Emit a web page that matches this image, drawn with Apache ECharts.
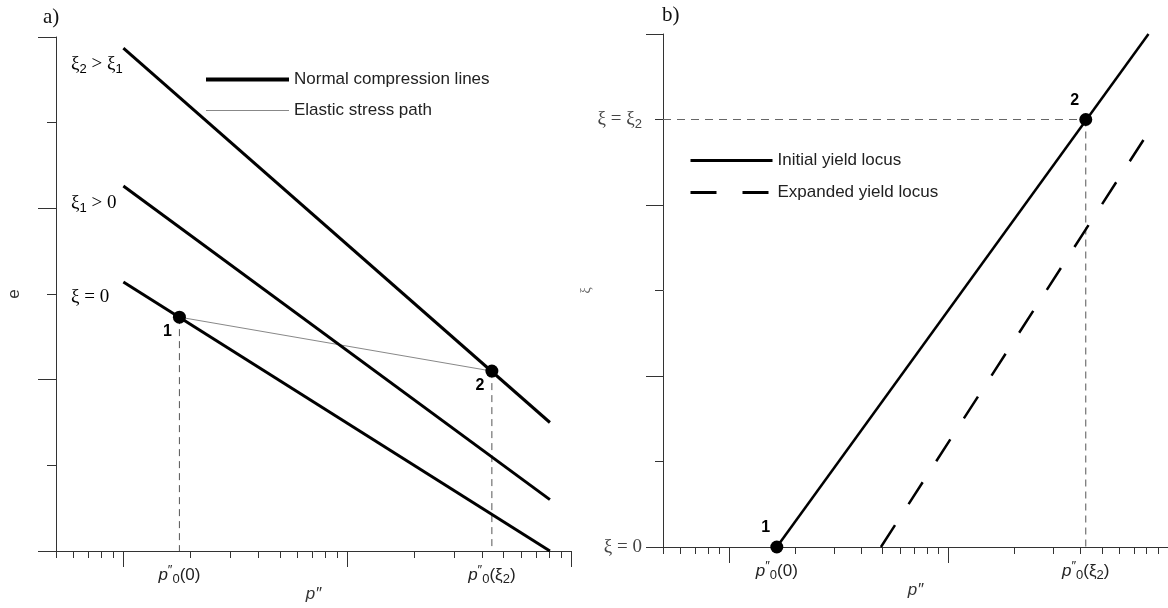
<!DOCTYPE html>
<html>
<head>
<meta charset="utf-8">
<script src="https://cdn.jsdelivr.net/npm/echarts@6/dist/echarts.min.js"></script>
<style>
html,body{margin:0;padding:0;background:#fff;}
#chart{width:1168px;height:608px;}
</style>
</head>
<body>
<div id="chart"></div>
<script>
// ---- data ----
const xMin = 0.5, xMax = 100;
const xTicksMajor = [1, 10, 100];
const xTicksMinor = [0.5, 0.6, 0.7, 0.8, 0.9, 2, 3, 4, 5, 6, 7, 8, 9, 20, 30, 40, 50, 60, 70, 80, 90];
const yMin = 0, yMax = 6;

// panel a) e vs p''
const nclP = [1, 80.5];
const nclXi0 = [3.14, 0];
const nclXi1 = [4.26, 0.6];
const nclXi2 = [5.87, 1.5];
const ptsAP = [1.78, 44.3];
const ptsAE = [2.73, 2.10];
const ptsANames = ['1', '2'];
const xLabelValsA = [1.78, 44.3];

// panel b) xi vs p''
const initP = [1.65, 81.5];
const initXi = [0, 6];
const expP = [4.92, 77.3];
const expXi = [0, 4.76];
const ptsBP = [1.65, 42.2];
const ptsBXi = [0, 5];
const ptsBNames = ['1', '2'];
const xLabelValsB = [1.65, 42.2];
const yLabelValsB = [0, 5];

const xLabelTexts = ['{i|p}{sup|″}{sub|0}{n|(0)}', '{i|p}{sup|″}{sub|0}{n|(ξ}{sub|2}{n|)}'];
const yLabelTextsB = ['{t|ξ = 0}', '{t|ξ = ξ}{sub|2}'];

// ---- helpers ----
const AX = '#333';
const sansFont = '"Liberation Sans", Arial, sans-serif';
const serifFont = '"Liberation Serif", "Times New Roman", serif';
const pair = (xs, ys) => xs.map((x, i) => [x, ys[i]]);

const xRich = {
  i: {fontFamily: sansFont, fontSize: 17, fontStyle: 'italic', color: '#222', lineHeight: 22},
  n: {fontFamily: sansFont, fontSize: 17, color: '#222', lineHeight: 22},
  sup: {fontFamily: sansFont, fontSize: 13, color: '#222', lineHeight: 14, verticalAlign: 'top'},
  sub: {fontFamily: sansFont, fontSize: 13, color: '#222', lineHeight: 13, verticalAlign: 'bottom'}
};
const serifRich = {
  t: {fontFamily: serifFont, fontSize: 19, color: '#444', lineHeight: 23},
  sub: {fontFamily: sansFont, fontSize: 13, color: '#444', lineHeight: 13, verticalAlign: 'bottom'}
};

function nearestIdx(arr, v) {
  let b = 0;
  arr.forEach((a, i) => { if (Math.abs(Math.log(a) - Math.log(v)) < Math.abs(Math.log(arr[b]) - Math.log(v))) b = i; });
  return b;
}

function xAxesFor(grid, labelVals) {
  return [
    {
      type: 'log', logBase: 10, gridIndex: grid, min: xMin, max: xMax, position: 'bottom',
      axisLine: {show: true, lineStyle: {color: AX, width: 1}},
      axisTick: {show: true, customValues: xTicksMajor, length: 16, lineStyle: {color: AX}},
      axisLabel: {show: false},
      splitLine: {show: false},
      name: "p″", nameLocation: 'middle', nameGap: 35,
      nameTextStyle: {fontFamily: sansFont, fontSize: 17, fontStyle: 'italic', color: '#333'}
    },
    {
      type: 'log', logBase: 10, gridIndex: grid, min: xMin, max: xMax, position: 'bottom',
      axisLine: {show: false},
      axisTick: {show: true, customValues: xTicksMinor, length: 7, lineStyle: {color: AX}},
      axisLabel: {
        show: true, customValues: labelVals, margin: 13,
        formatter: v => xLabelTexts[nearestIdx(labelVals, v)],
        rich: xRich
      },
      splitLine: {show: false}
    }
  ];
}

const thinDash = {color: '#555', width: 1, type: [7, 5]};
const dotStyle = {color: '#000', opacity: 1};
const ptLabel = (off) => ({show: true, formatter: '{b}', position: 'inside', offset: off,
  fontFamily: sansFont, fontSize: 16, fontWeight: 'bold', color: '#000', textBorderWidth: 0});

const option = {
  animation: false,
  backgroundColor: '#fff',
  grid: [
    {left: 56, top: 37, width: 515, height: 516},
    {left: 663, top: 34, width: 515, height: 513}
  ],
  xAxis: [...xAxesFor(0, xLabelValsA), ...xAxesFor(1, xLabelValsB)],
  yAxis: [
    {
      type: 'value', gridIndex: 0, min: yMin, max: yMax, interval: 2,
      axisLine: {show: true, lineStyle: {color: AX}},
      axisTick: {show: true, length: 18, lineStyle: {color: AX}},
      minorTick: {show: true, splitNumber: 2, length: 9, lineStyle: {color: AX}},
      axisLabel: {show: false},
      splitLine: {show: false},
      name: 'e', nameLocation: 'middle', nameGap: 33,
      nameTextStyle: {fontFamily: sansFont, fontSize: 17, color: '#333'}
    },
    {
      type: 'value', gridIndex: 1, min: yMin, max: yMax, interval: 2,
      axisLine: {show: true, lineStyle: {color: AX}},
      axisTick: {show: true, length: 17, lineStyle: {color: AX}},
      minorTick: {show: true, splitNumber: 2, length: 8, lineStyle: {color: AX}},
      axisLabel: {
        show: true, customValues: yLabelValsB, margin: 21,
        formatter: v => yLabelTextsB[yLabelValsB.indexOf(v)],
        rich: serifRich
      },
      splitLine: {show: false},
      name: 'ξ', nameLocation: 'middle', nameGap: 52,
      nameTextStyle: {fontFamily: serifFont, fontSize: 14, color: '#666'}
    }
  ],
  legend: [
    {
      data: [
        {name: 'Normal compression lines', lineStyle: {width: 4, color: '#000'}},
        {name: 'Elastic stress path', lineStyle: {width: 1.2, color: '#888'}}
      ],
      orient: 'vertical', left: 204, top: 71, padding: 0, itemWidth: 83, itemHeight: 14, itemGap: 14,
      itemStyle: {opacity: 0},
      textStyle: {fontFamily: sansFont, fontSize: 17, color: '#222'},
      selectedMode: false
    },
    {
      data: [
        {name: 'Initial yield locus', lineStyle: {width: 3, color: '#000'}},
        {name: 'Expanded yield locus', lineStyle: {width: 3, color: '#000', type: [26, 26]}}
      ],
      orient: 'vertical', left: 689, top: 152, padding: 0, itemWidth: 82, itemHeight: 14, itemGap: 15,
      itemStyle: {opacity: 0},
      textStyle: {fontFamily: sansFont, fontSize: 17, color: '#222'},
      selectedMode: false
    }
  ],
  series: [
    // panel a
    {type: 'line', name: 'Normal compression lines', xAxisIndex: 0, yAxisIndex: 0, data: pair(nclP, nclXi0),
      symbol: 'none', lineStyle: {color: '#000', width: 3}, itemStyle: {color: '#000'}, z: 3},
    {type: 'line', name: 'Normal compression lines', xAxisIndex: 0, yAxisIndex: 0, data: pair(nclP, nclXi1),
      symbol: 'none', lineStyle: {color: '#000', width: 3}, itemStyle: {color: '#000'}, z: 3},
    {type: 'line', name: 'Normal compression lines', xAxisIndex: 0, yAxisIndex: 0, data: pair(nclP, nclXi2),
      symbol: 'none', lineStyle: {color: '#000', width: 3}, itemStyle: {color: '#000'}, z: 3},
    {type: 'line', name: 'Elastic stress path', xAxisIndex: 0, yAxisIndex: 0, data: pair(ptsAP, ptsAE),
      symbol: 'none', lineStyle: {color: '#888', width: 1}, itemStyle: {color: '#888'}, z: 2},
    {type: 'line', name: 'guideA1', xAxisIndex: 0, yAxisIndex: 0, data: [[ptsAP[0], ptsAE[0]], [ptsAP[0], yMin]],
      symbol: 'none', lineStyle: thinDash, z: 1},
    {type: 'line', name: 'guideA2', xAxisIndex: 0, yAxisIndex: 0, data: [[ptsAP[1], ptsAE[1]], [ptsAP[1], yMin]],
      symbol: 'none', lineStyle: thinDash, z: 1},
    {type: 'scatter', name: 'pointsA', xAxisIndex: 0, yAxisIndex: 0,
      data: ptsAP.map((p, i) => ({value: [p, ptsAE[i]], name: ptsANames[i]})),
      symbolSize: 13, itemStyle: dotStyle, z: 5, label: ptLabel([-12, 14])},
    // panel b
    {type: 'line', name: 'Initial yield locus', xAxisIndex: 2, yAxisIndex: 1, data: pair(initP, initXi),
      symbol: 'none', lineStyle: {color: '#000', width: 2.5}, itemStyle: {color: '#000'}, z: 3},
    {type: 'line', name: 'Expanded yield locus', xAxisIndex: 2, yAxisIndex: 1, data: pair(expP, expXi),
      symbol: 'none', lineStyle: {color: '#000', width: 2.5, type: [26, 25]}, itemStyle: {color: '#000'}, z: 3},
    {type: 'line', name: 'guideB1', xAxisIndex: 2, yAxisIndex: 1, data: [[xMin, ptsBXi[1]], [ptsBP[1], ptsBXi[1]]],
      symbol: 'none', lineStyle: {color: '#666', width: 1, type: [8, 6]}, z: 1},
    {type: 'line', name: 'guideB2', xAxisIndex: 2, yAxisIndex: 1, data: [[ptsBP[1], ptsBXi[1]], [ptsBP[1], yMin]],
      symbol: 'none', lineStyle: thinDash, z: 1},
    {type: 'scatter', name: 'pointsB', xAxisIndex: 2, yAxisIndex: 1,
      data: ptsBP.map((p, i) => ({value: [p, ptsBXi[i]], name: ptsBNames[i]})),
      symbolSize: 13, itemStyle: dotStyle, z: 5, label: ptLabel([-11, -19])}
  ],
  graphic: [
    {type: 'text', left: 43, top: 7, style: {text: 'a)', fontFamily: serifFont, fontSize: 21, fill: '#111'}},
    {type: 'text', left: 662, top: 5, style: {text: 'b)', fontFamily: serifFont, fontSize: 21, fill: '#111'}},
    {type: 'text', left: 71, top: 55, style: {text: '{t|ξ}{sub|2}{t| > ξ}{sub|1}', rich: serifRich}},
    {type: 'text', left: 71, top: 194, style: {text: '{t|ξ}{sub|1}{t| > 0}', rich: serifRich}},
    {type: 'text', left: 71, top: 288, style: {text: '{t|ξ = 0}', rich: serifRich}}
  ]
};

const chart = echarts.init(document.getElementById('chart'), null, {renderer: 'canvas'});
chart.setOption(option);
</script>
</body>
</html>
